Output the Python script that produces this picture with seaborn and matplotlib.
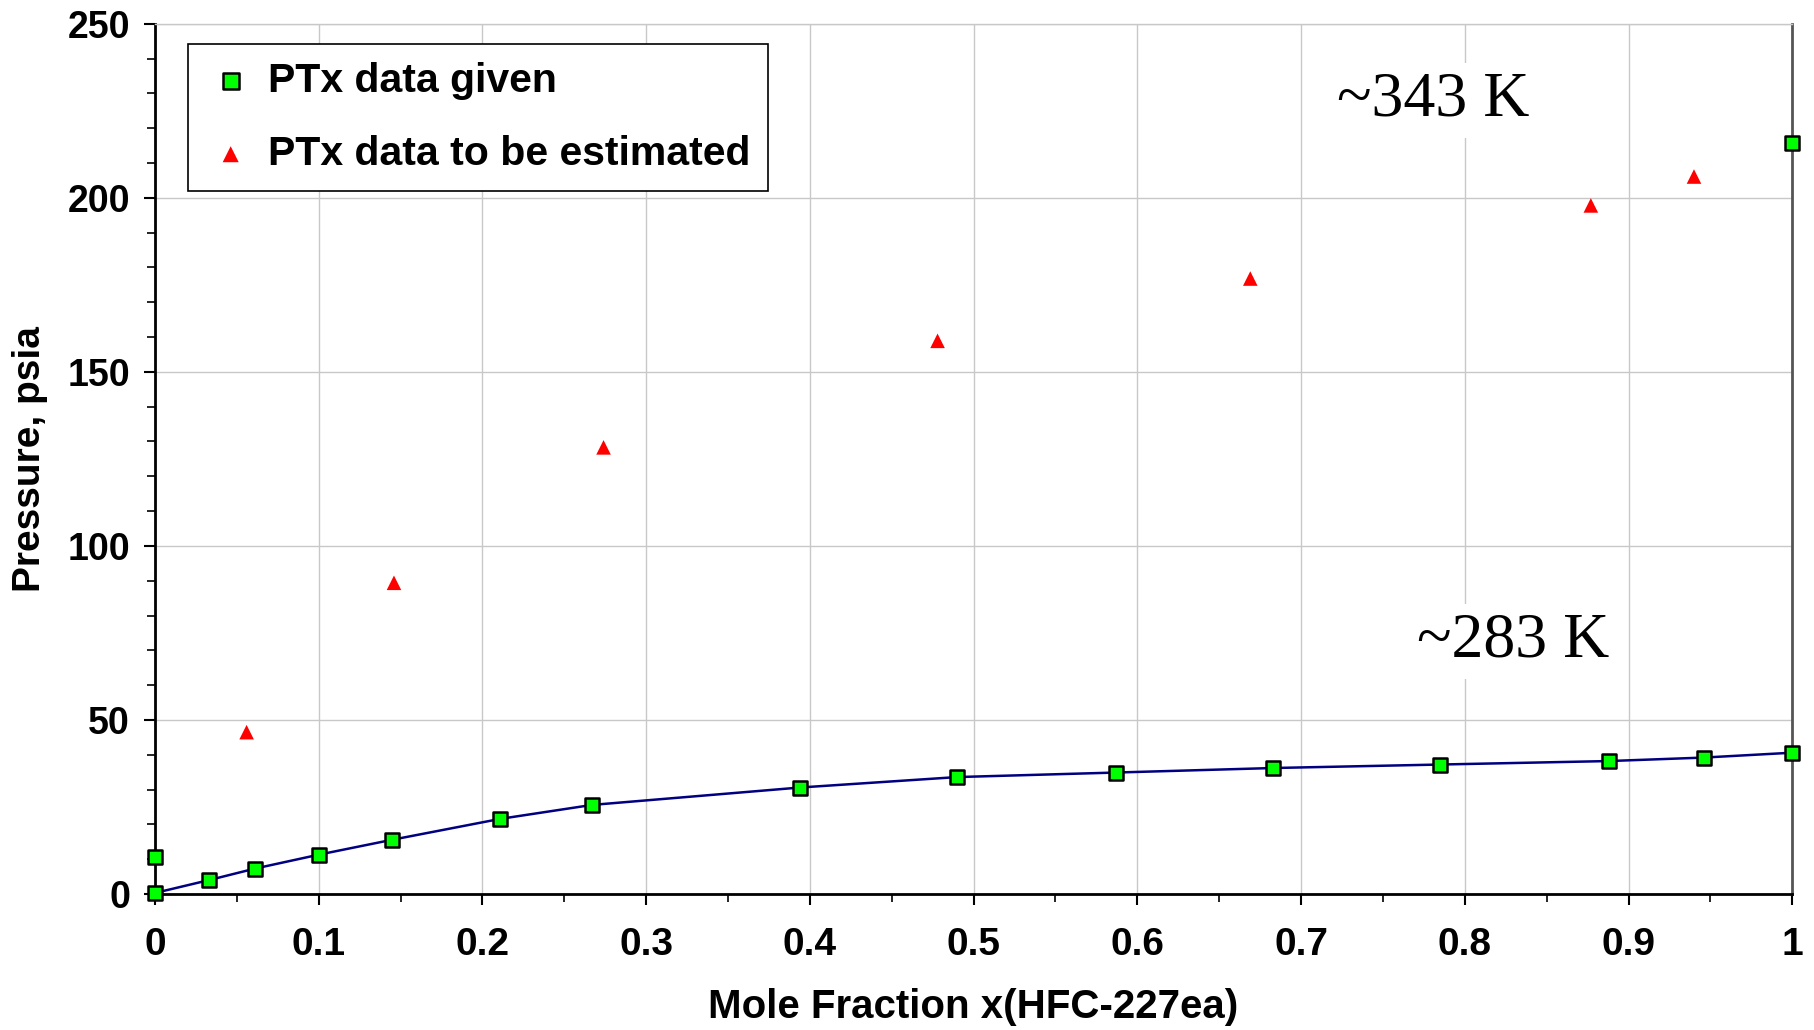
import numpy as np
import pandas as pd
import seaborn as sns
import matplotlib.pyplot as plt
from matplotlib.ticker import MultipleLocator

sns.set_theme(style="whitegrid")
plt.rcParams['font.family'] = ['Liberation Sans', 'DejaVu Sans']
plt.rcParams['text.color'] = 'black'
plt.rcParams['axes.labelcolor'] = 'black'
plt.rcParams['xtick.color'] = 'black'
plt.rcParams['ytick.color'] = 'black'

# PTx data given (green squares)
given_x = [0.0, 0.0, 0.033, 0.061, 0.100, 0.145, 0.211, 0.267, 0.394, 0.490,
           0.587, 0.683, 0.785, 0.888, 0.946, 1.0, 1.0]
given_p = [10.6, 0.3, 4.0, 7.3, 11.3, 15.6, 21.6, 25.6, 30.6, 33.6,
           34.9, 36.2, 37.2, 38.2, 39.2, 40.6, 215.7]

# ~283 K curve through the low-temperature points
curve_x = [0.0, 0.033, 0.061, 0.100, 0.145, 0.211, 0.267, 0.394, 0.490,
           0.587, 0.683, 0.785, 0.888, 0.946, 1.0]
curve_p = [0.3, 4.0, 7.3, 11.3, 15.6, 21.6, 25.6, 30.6, 33.6,
           34.9, 36.2, 37.2, 38.2, 39.2, 40.6]

# PTx data to be estimated (red triangles)
est_x = [0.056, 0.146, 0.274, 0.478, 0.669, 0.877, 0.940]
est_p = [46.5, 89.4, 128.3, 158.9, 176.8, 197.8, 206.1]

given = pd.DataFrame({'x': given_x, 'p': given_p})
curve = pd.DataFrame({'x': curve_x, 'p': curve_p})
est = pd.DataFrame({'x': est_x, 'p': est_p})

fig = plt.figure(figsize=(18.14, 10.30), dpi=100)
ax = fig.add_axes([0.0854, 0.132, 0.9026, 0.845])

sns.lineplot(data=curve, x='x', y='p', ax=ax, color='#000080', linewidth=1.8,
             zorder=2)
sns.scatterplot(data=est, x='x', y='p', ax=ax, marker='^', s=110, color='#ff0000',
                edgecolor='none', label='PTx data to be estimated', zorder=3)
sns.scatterplot(data=given, x='x', y='p', ax=ax, marker='s', s=110, color='#00ff00',
                edgecolor='black', linewidth=1.8, label='PTx data given', zorder=4,
                clip_on=False)

ax.set_xlim(0, 1)
ax.set_ylim(0, 250)
ax.xaxis.set_minor_locator(MultipleLocator(0.05))
ax.yaxis.set_major_locator(MultipleLocator(50))
ax.yaxis.set_minor_locator(MultipleLocator(10))
ax.set_xticks(np.arange(0, 1.01, 0.1))
ax.set_xticklabels(['0', '0.1', '0.2', '0.3', '0.4', '0.5', '0.6', '0.7', '0.8', '0.9', '1'])

ax.grid(True, which='major', color='#c8c8c8', linewidth=1.0)
ax.grid(False, which='minor')
ax.tick_params(axis='both', which='major', direction='out', length=8, width=1.5,
               bottom=True, left=True)
ax.tick_params(axis='both', which='minor', direction='out', length=6, width=1.2,
               bottom=True, left=True)
ax.tick_params(axis='x', labelsize=28, pad=16)
ax.tick_params(axis='y', labelsize=27, pad=10)
for lbl in ax.get_xticklabels() + ax.get_yticklabels():
    lbl.set_fontweight('bold')

ax.spines['left'].set_color('black')
ax.spines['left'].set_linewidth(2)
ax.spines['bottom'].set_color('black')
ax.spines['bottom'].set_linewidth(2)
ax.spines['right'].set_color('#555555')
ax.spines['right'].set_linewidth(2)
ax.spines['top'].set_color('#c8c8c8')
ax.spines['top'].set_linewidth(1)

ax.set_xlabel('Mole Fraction x(HFC-227ea)', fontsize=29, fontweight='bold', labelpad=18)
ax.set_ylabel('Pressure, psia', fontsize=28, fontweight='bold', labelpad=14)

ax.text(0.722, 228, '~343 K', fontsize=46, family='Liberation Serif', va='center',
        ha='left', bbox=dict(facecolor='white', edgecolor='none', pad=6), zorder=5)
ax.text(0.771, 72.5, '~283 K', fontsize=46, family='Liberation Serif', va='center',
        ha='left', bbox=dict(facecolor='white', edgecolor='none', pad=6), zorder=5)

handles, labels = ax.get_legend_handles_labels()
order = [labels.index('PTx data given'), labels.index('PTx data to be estimated')]
leg = ax.legend([handles[i] for i in order], [labels[i] for i in order],
                loc='upper left', bbox_to_anchor=(0.02, 0.977),
                prop={'weight': 'bold', 'size': 29.5}, frameon=True, fancybox=False,
                edgecolor='black', framealpha=1, borderpad=0.45, labelspacing=0.85,
                handlelength=1.2, handletextpad=0.3, markerscale=1.1, borderaxespad=0)
leg.get_frame().set_linewidth(1.2)

fig.savefig('out.png', dpi=100)
